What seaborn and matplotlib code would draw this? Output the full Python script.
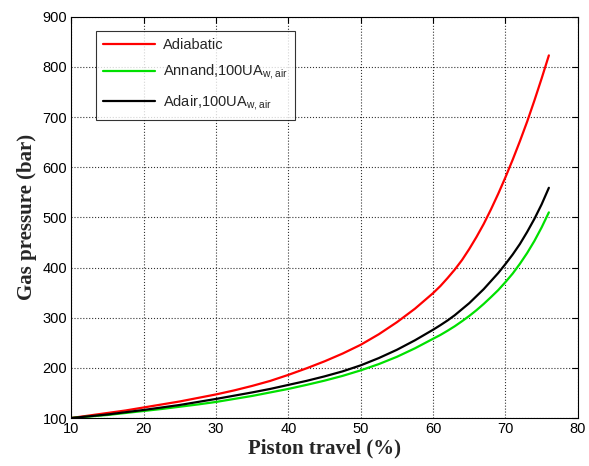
"""
Gas pressure vs piston travel: adiabatic vs heat-transfer models.
"""
import matplotlib
matplotlib.use('Agg')
import matplotlib.pyplot as plt
import seaborn as sns
import pandas as pd

# Data
travel = [10, 12.5, 15, 17.5, 20, 22.5, 25, 27.5, 30, 32.5, 35, 37.5, 40, 42.5, 45, 47.5,
          50, 52.5, 55, 57.5, 60, 61, 62, 63, 64, 65, 66, 67, 68, 69, 70,
          71, 72, 73, 74, 75, 76]
p_adiabatic = [100, 105, 110, 115, 121, 127, 133, 140, 147, 155, 164, 174, 186, 199, 213, 228.5,
               246, 267, 291, 318, 349, 363, 379, 396, 415, 437, 461, 487, 516, 547, 580,
               615, 652, 691, 733, 777, 823]
p_annand = [100, 103, 106, 110, 114, 118, 122.5, 127, 132, 138, 144, 151, 158, 166, 174.5, 184,
            195, 207.5, 222, 239, 258, 265.5, 274, 283, 293, 303.5, 315, 327.5, 341, 355, 371,
            388, 407.5, 429, 453, 480, 510]
p_adair = [100, 103.5, 107, 111.5, 116, 121, 126, 132, 138, 144.5, 151, 158, 166, 174, 183, 193,
           205, 219.5, 236, 255, 276, 285, 294.5, 305, 317, 329, 343, 357, 373, 389, 407,
           426, 447, 471, 497, 526, 559]

labels = ['Adiabatic',
          r'Annand,100UA$_{\mathregular{w,air}}$',
          r'Adair,100UA$_{\mathregular{w,air}}$']
colors = ['#ff0000', '#00e000', '#000000']

df = pd.concat([
    pd.DataFrame({'travel': travel, 'pressure': p, 'model': lab})
    for p, lab in zip([p_adiabatic, p_annand, p_adair], labels)
])

sns.set_style("white")
plt.rcParams['font.family'] = ['Liberation Sans', 'DejaVu Sans']
plt.rcParams['mathtext.fontset'] = 'custom'
plt.rcParams['mathtext.rm'] = 'Liberation Sans'

fig, ax = plt.subplots(figsize=(5.89, 4.66), dpi=100)
fig.subplots_adjust(left=0.121, right=0.981, top=0.964, bottom=0.103)

sns.lineplot(data=df, x='travel', y='pressure', hue='model', hue_order=labels,
             palette=colors, linewidth=1.6, sort=False, ax=ax)

ax.set_xlim(10, 80)
ax.set_ylim(100, 900)
ax.set_xticks(range(10, 81, 10))
ax.set_yticks(range(100, 901, 100))
ax.tick_params(direction='in', top=True, right=True, labelsize=10.5,
               length=4, width=0.8, colors='black', pad=3)
ax.grid(True, linestyle=':', color='black', linewidth=0.8, alpha=0.8)
for s in ax.spines.values():
    s.set_color('black')
    s.set_linewidth(0.8)

ax.set_xlabel('Piston travel (%)', family='Liberation Serif', fontweight='bold',
              fontsize=15, labelpad=2)
ax.set_ylabel('Gas pressure (bar)', family='Liberation Serif', fontweight='bold',
              fontsize=15, labelpad=4)

leg = ax.legend(loc='upper left', bbox_to_anchor=(0.048, 0.965), borderaxespad=0,
                fontsize=10.5, handlelength=3.6, frameon=True, fancybox=False,
                edgecolor='black', labelspacing=0.75, borderpad=0.5, handletextpad=0.5)
leg.get_frame().set_linewidth(0.8)
for line in leg.get_lines():
    line.set_linewidth(1.6)

plt.savefig('out.png', dpi=100)
plt.close()
